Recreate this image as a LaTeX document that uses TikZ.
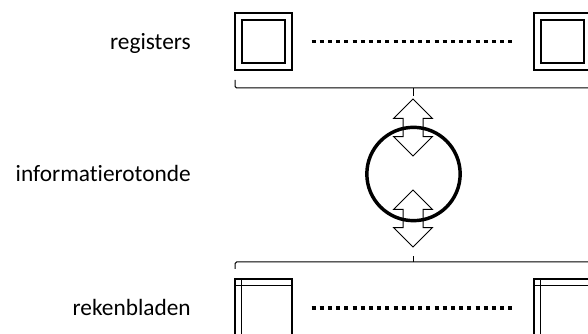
\documentclass[tikz,border=0pt]{standalone}
\usepackage{fontspec}
\setmainfont{Carlito}[Ligatures=NoCommon]
\usetikzlibrary{shapes.arrows}

\begin{document}
\begin{tikzpicture}[x=0.75pt, y=-0.75pt,
    box/.style={draw, line width=0.8pt, inner sep=0pt},
    dots/.style={line width=2.3pt, dash pattern=on 3pt off 3.15pt},
    label/.style={font=\fontsize{17.5}{21}\selectfont, anchor=base east, inner sep=0pt},
    dblarrow/.style={double arrow, draw, line width=0.75pt, rotate=90, inner xsep=0pt, inner ysep=7.125pt,
        minimum height=42.75pt, double arrow head extend=7.1pt},
    bracket/.style={draw, line width=0.75pt, rounded corners=1.2pt}
]
\clip (0,0) rectangle (588,334);
% labels on the left
\node[label] (lblreg) at (191,50) {registers};
\node[label] (lblrot) at (191,182) {informatierotonde};
\node[label] (lblsheet) at (191,315.5) {rekenbladen};
% registers: box within a box
\foreach \x/\name in {263.5/regL, 562.5/regR} {
    \node[box, minimum size=42.75pt] (\name) at (\x,41.5) {};
    \node[box, minimum size=32.25pt] at (\name) {};
}
\draw[dots] ([xshift=14.25pt]regL.east) -- ([xshift=-13.5pt]regR.west);
% rekenbladen: header row and column
\foreach \x/\name in {263.5/sheetL, 562.5/sheetR} {
    \node[box, minimum width=42.75pt, minimum height=43.5pt] (\name) at (\x,308) {};
    \draw[box] ([yshift=-5.25pt]\name.north west) -- ([yshift=-5.25pt]\name.north east);
    \draw[box] ([xshift=5.25pt]\name.north west) -- ([xshift=5.25pt]\name.south west);
}
\draw[dots] ([xshift=14.25pt]sheetL.east) -- ([xshift=-13.5pt]sheetR.west);
% rotonde with the two double arrows
\node[dblarrow] (arrUp) at (413,127.5) {};
\node[dblarrow] (arrDown) at (413,218.5) {};
\node[draw, circle, line width=2.6pt, inner sep=0pt, minimum size=70pt] (rotonde) at (413.5,174) {};
% brackets
\coordinate (tbM) at (413,88);
\coordinate (bbM) at (413,262);
\draw[bracket] (235,80) |- (591,88) -- (591,80);
\draw[bracket] (tbM) -- ([yshift=1.5pt]arrUp.east);
\draw[bracket] (235,269) |- (591,262) -- (591,269);
\draw[bracket] (bbM) -- ++(0,-6);
\end{tikzpicture}
\end{document}
